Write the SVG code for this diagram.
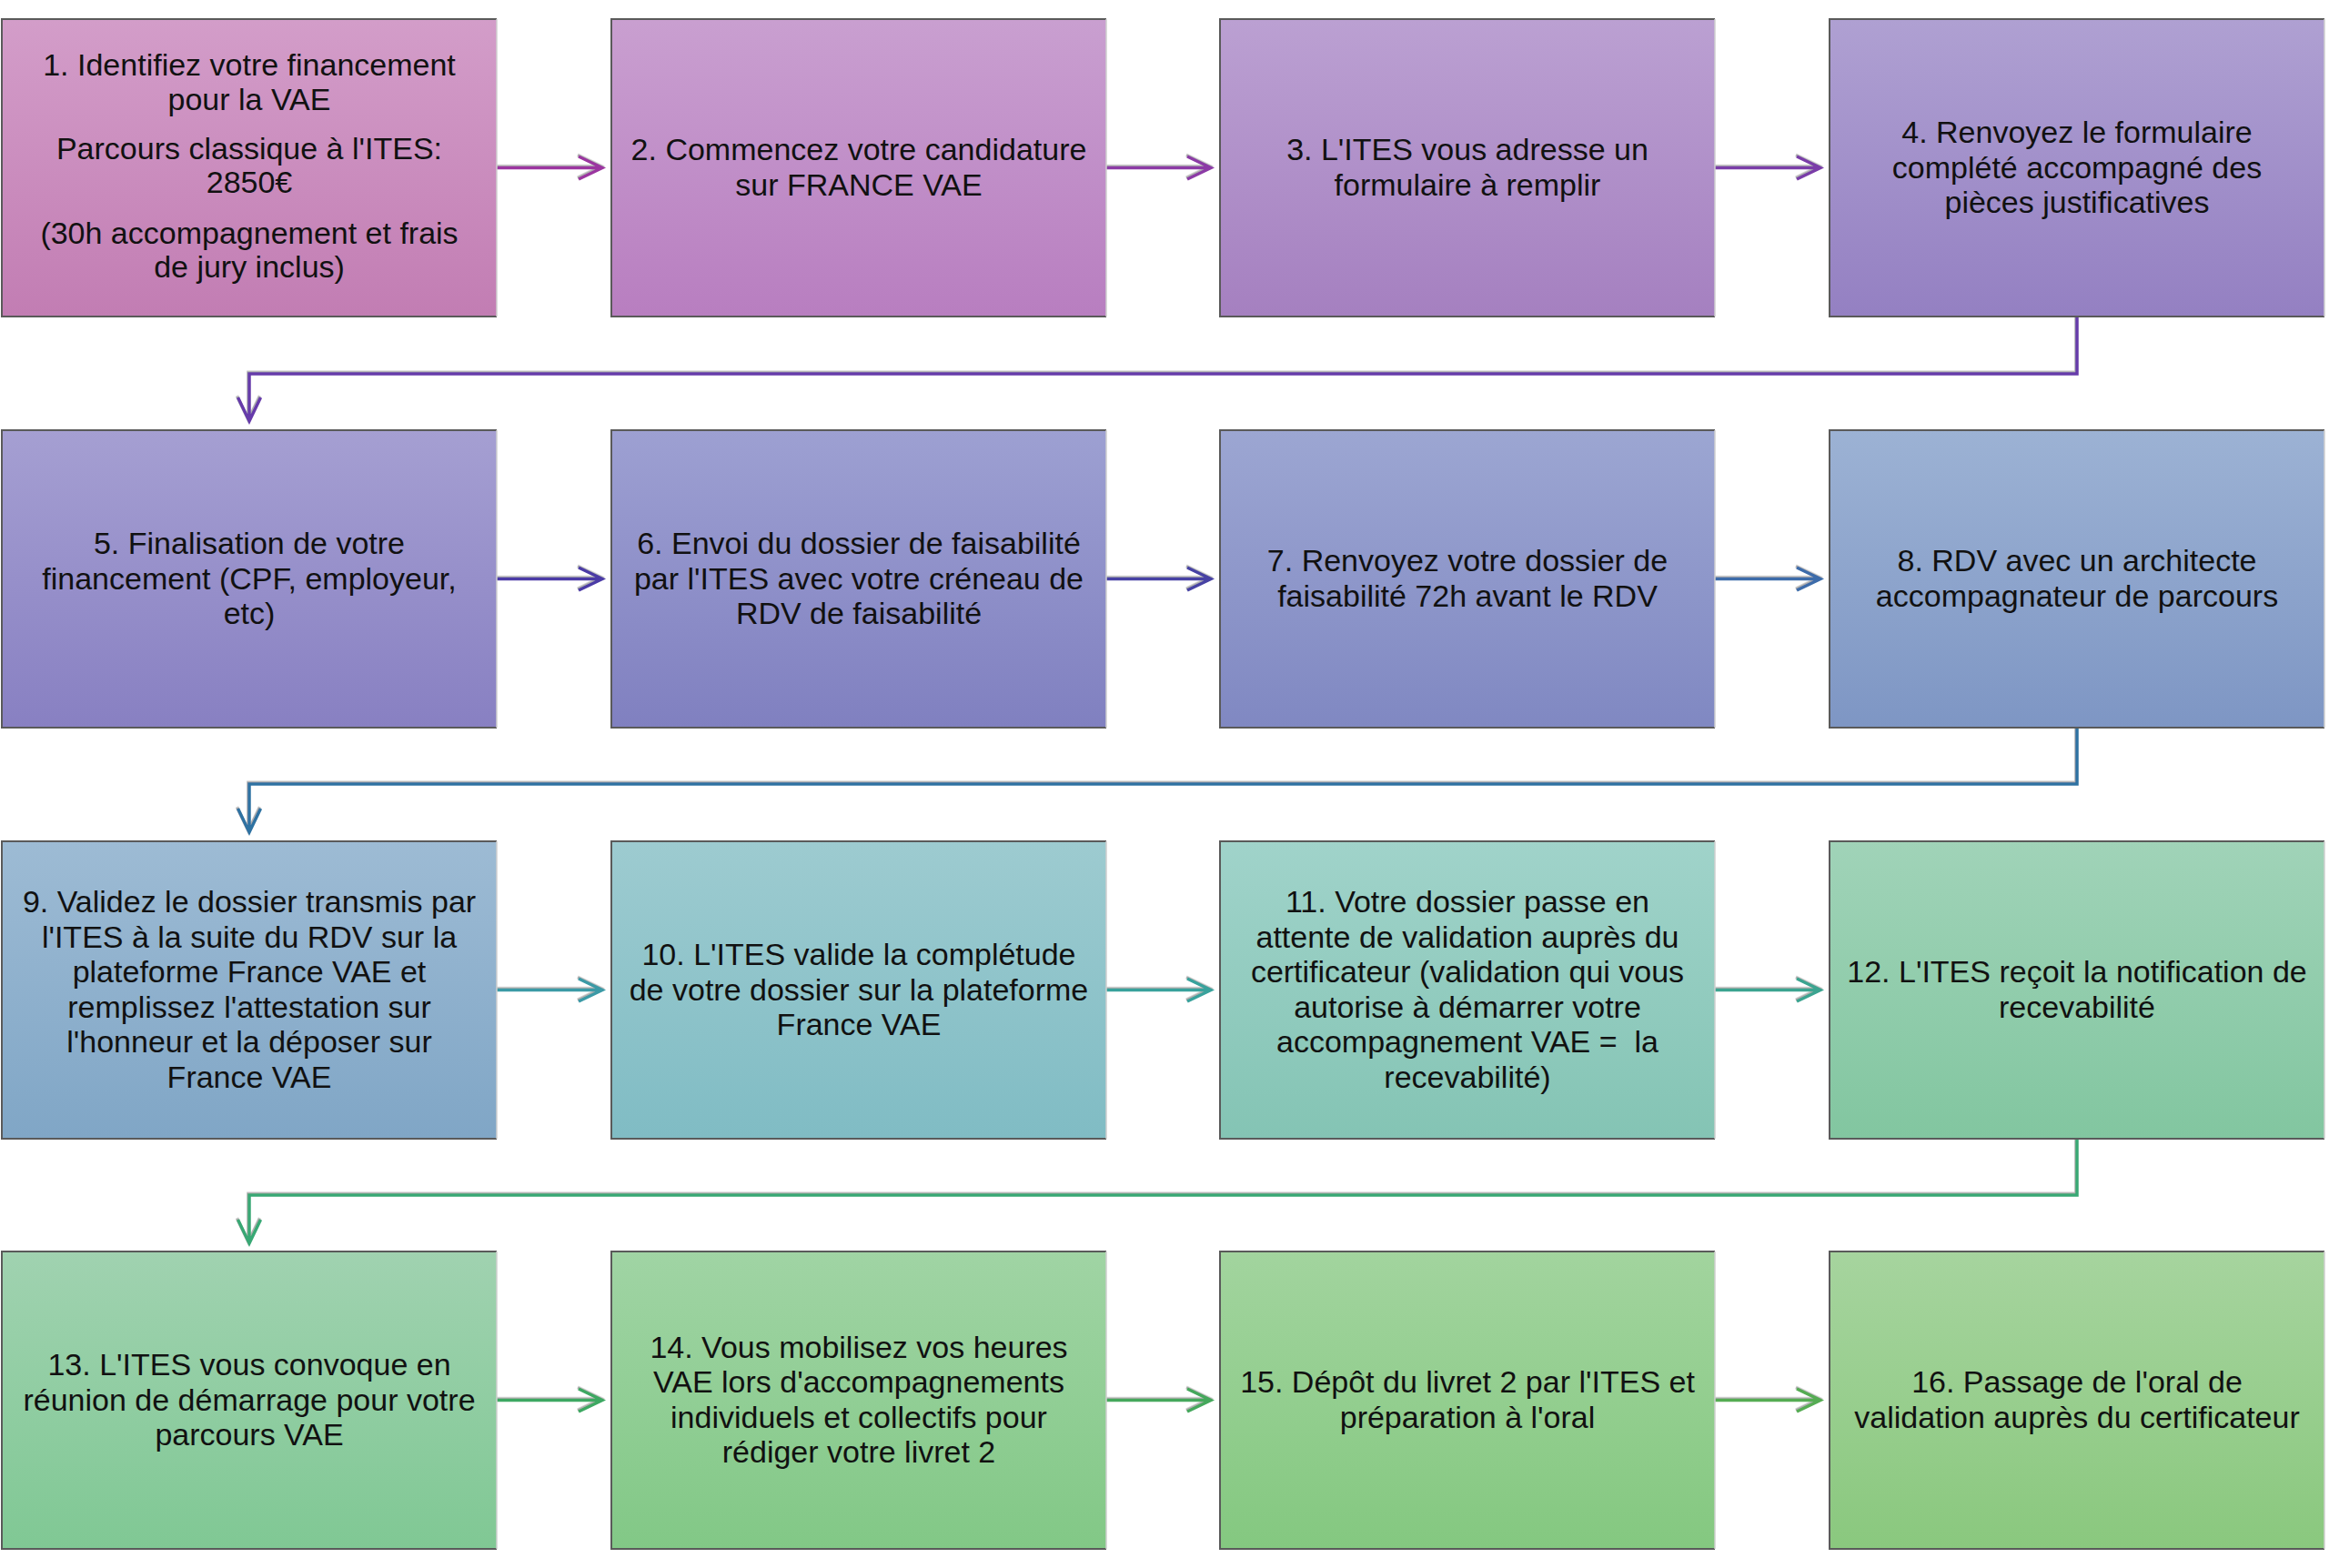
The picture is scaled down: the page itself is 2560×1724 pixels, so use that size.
<svg xmlns="http://www.w3.org/2000/svg" width="2560" height="1724" viewBox="0 0 2560 1724">
<defs>
<style>
.t{font-family:"Liberation Sans",Arial,sans-serif;font-size:34px;fill:#111;text-anchor:middle}
.edge{fill:none;stroke:#5a5a5a;stroke-width:2}
.redge{fill:none;stroke:#cfcfcf;stroke-width:1.5}
.c{fill:none;stroke-width:3.5;stroke-linejoin:miter;stroke-linecap:butt;filter:url(#sh)}
</style>
<filter id="sh" x="-5%" y="-50%" width="110%" height="200%">
<feDropShadow dx="-1" dy="-1.5" stdDeviation="0.4" flood-color="#9a9a9a" flood-opacity="0.8"/>
</filter>
<linearGradient id="g1" x1="0" y1="0" x2="0" y2="1"><stop offset="0" stop-color="#D39DC9"/><stop offset="1" stop-color="#C27DB3"/></linearGradient>
<linearGradient id="g2" x1="0" y1="0" x2="0" y2="1"><stop offset="0" stop-color="#C99FD0"/><stop offset="1" stop-color="#B87EC0"/></linearGradient>
<linearGradient id="g3" x1="0" y1="0" x2="0" y2="1"><stop offset="0" stop-color="#BBA0D2"/><stop offset="1" stop-color="#A580C0"/></linearGradient>
<linearGradient id="g4" x1="0" y1="0" x2="0" y2="1"><stop offset="0" stop-color="#AFA0D2"/><stop offset="1" stop-color="#9480C2"/></linearGradient>
<linearGradient id="g5" x1="0" y1="0" x2="0" y2="1"><stop offset="0" stop-color="#A59FD2"/><stop offset="1" stop-color="#8880C2"/></linearGradient>
<linearGradient id="g6" x1="0" y1="0" x2="0" y2="1"><stop offset="0" stop-color="#9DA0D2"/><stop offset="1" stop-color="#8080C0"/></linearGradient>
<linearGradient id="g7" x1="0" y1="0" x2="0" y2="1"><stop offset="0" stop-color="#9CA6D2"/><stop offset="1" stop-color="#8088C2"/></linearGradient>
<linearGradient id="g8" x1="0" y1="0" x2="0" y2="1"><stop offset="0" stop-color="#9CB2D4"/><stop offset="1" stop-color="#7E96C4"/></linearGradient>
<linearGradient id="g9" x1="0" y1="0" x2="0" y2="1"><stop offset="0" stop-color="#9DBBD4"/><stop offset="1" stop-color="#80A6C6"/></linearGradient>
<linearGradient id="g10" x1="0" y1="0" x2="0" y2="1"><stop offset="0" stop-color="#9DCBD0"/><stop offset="1" stop-color="#80BCC4"/></linearGradient>
<linearGradient id="g11" x1="0" y1="0" x2="0" y2="1"><stop offset="0" stop-color="#A0D3CA"/><stop offset="1" stop-color="#84C4B4"/></linearGradient>
<linearGradient id="g12" x1="0" y1="0" x2="0" y2="1"><stop offset="0" stop-color="#A0D3B8"/><stop offset="1" stop-color="#82C6A0"/></linearGradient>
<linearGradient id="g13" x1="0" y1="0" x2="0" y2="1"><stop offset="0" stop-color="#A0D2B0"/><stop offset="1" stop-color="#80C894"/></linearGradient>
<linearGradient id="g14" x1="0" y1="0" x2="0" y2="1"><stop offset="0" stop-color="#A0D4A4"/><stop offset="1" stop-color="#82C886"/></linearGradient>
<linearGradient id="g15" x1="0" y1="0" x2="0" y2="1"><stop offset="0" stop-color="#A2D49E"/><stop offset="1" stop-color="#84C880"/></linearGradient>
<linearGradient id="g16" x1="0" y1="0" x2="0" y2="1"><stop offset="0" stop-color="#A6D49E"/><stop offset="1" stop-color="#8AC87E"/></linearGradient>
</defs>
<rect width="2560" height="1724" fill="#ffffff"/>

<g id="connectors">
<path class="c" stroke="#9B35A0" d="M546,184.5 H662 M636,172 L662,184.5 L636,197"/>
<path class="c" stroke="#8C3AA6" d="M1216,184.5 H1331 M1305,172 L1331,184.5 L1305,197"/>
<path class="c" stroke="#7A3CA8" d="M1885,184.5 H2001 M1975,172 L2001,184.5 L1975,197"/>
<path class="c" stroke="#663AAA" d="M2283,348 V411 H274 V463 M261.5,437 L274,463 L286.5,437"/>
<path class="c" stroke="#4B3BA6" d="M546,636.5 H662 M636,624 L662,636.5 L636,649"/>
<path class="c" stroke="#4642A4" d="M1216,636.5 H1331 M1305,624 L1331,636.5 L1305,649"/>
<path class="c" stroke="#3C6CAA" d="M1885,636.5 H2001 M1975,624 L2001,636.5 L1975,649"/>
<path class="c" stroke="#2F72A2" d="M2283,800 V862 H274 V915 M261.5,889 L274,915 L286.5,889"/>
<path class="c" stroke="#3A9AA6" d="M546,1088.5 H662 M636,1076 L662,1088.5 L636,1101"/>
<path class="c" stroke="#38A29C" d="M1216,1088.5 H1331 M1305,1076 L1331,1088.5 L1305,1101"/>
<path class="c" stroke="#3AA490" d="M1885,1088.5 H2001 M1975,1076 L2001,1088.5 L1975,1101"/>
<path class="c" stroke="#38A874" d="M2283,1252 V1314 H274 V1367 M261.5,1341 L274,1367 L286.5,1341"/>
<path class="c" stroke="#3DA862" d="M546,1539.5 H662 M636,1527 L662,1539.5 L636,1552"/>
<path class="c" stroke="#44A85C" d="M1216,1539.5 H1331 M1305,1527 L1331,1539.5 L1305,1552"/>
<path class="c" stroke="#54AC52" d="M1885,1539.5 H2001 M1975,1527 L2001,1539.5 L1975,1552"/>
</g>

<g id="n1">
<rect x="2" y="21" width="544" height="327" fill="url(#g1)"/>
<path class="edge" d="M546,21 H2 V348 H546"/><path class="redge" d="M546,21 V348"/>
<text class="t" x="274" y="83">1. Identifiez votre financement</text>
<text class="t" x="274" y="120.5">pour la VAE</text>
<text class="t" x="274" y="174.5">Parcours classique à l'ITES:</text>
<text class="t" x="274" y="212">2850€</text>
<text class="t" x="274" y="267.5">(30h accompagnement et frais</text>
<text class="t" x="274" y="305">de jury inclus)</text>
</g>
<g id="n2">
<rect x="672" y="21" width="544" height="327" fill="url(#g2)"/>
<path class="edge" d="M1216,21 H672 V348 H1216"/><path class="redge" d="M1216,21 V348"/>
<text class="t" x="944" y="176.25">2. Commencez votre candidature</text>
<text class="t" x="944" y="214.75">sur FRANCE VAE</text>
</g>
<g id="n3">
<rect x="1341" y="21" width="544" height="327" fill="url(#g3)"/>
<path class="edge" d="M1885,21 H1341 V348 H1885"/><path class="redge" d="M1885,21 V348"/>
<text class="t" x="1613" y="176.25">3. L'ITES vous adresse un</text>
<text class="t" x="1613" y="214.75">formulaire à remplir</text>
</g>
<g id="n4">
<rect x="2011" y="21" width="544" height="327" fill="url(#g4)"/>
<path class="edge" d="M2555,21 H2011 V348 H2555"/><path class="redge" d="M2555,21 V348"/>
<text class="t" x="2283" y="157">4. Renvoyez le formulaire</text>
<text class="t" x="2283" y="195.5">complété accompagné des</text>
<text class="t" x="2283" y="234">pièces justificatives</text>
</g>

<g id="n5">
<rect x="2" y="473" width="544" height="327" fill="url(#g5)"/>
<path class="edge" d="M546,473 H2 V800 H546"/><path class="redge" d="M546,473 V800"/>
<text class="t" x="274" y="609">5. Finalisation de votre</text>
<text class="t" x="274" y="647.5">financement (CPF, employeur,</text>
<text class="t" x="274" y="686">etc)</text>
</g>
<g id="n6">
<rect x="672" y="473" width="544" height="327" fill="url(#g6)"/>
<path class="edge" d="M1216,473 H672 V800 H1216"/><path class="redge" d="M1216,473 V800"/>
<text class="t" x="944" y="609">6. Envoi du dossier de faisabilité</text>
<text class="t" x="944" y="647.5">par l'ITES avec votre créneau de</text>
<text class="t" x="944" y="686">RDV de faisabilité</text>
</g>
<g id="n7">
<rect x="1341" y="473" width="544" height="327" fill="url(#g7)"/>
<path class="edge" d="M1885,473 H1341 V800 H1885"/><path class="redge" d="M1885,473 V800"/>
<text class="t" x="1613" y="628.25">7. Renvoyez votre dossier de</text>
<text class="t" x="1613" y="666.75">faisabilité 72h avant le RDV</text>
</g>
<g id="n8">
<rect x="2011" y="473" width="544" height="327" fill="url(#g8)"/>
<path class="edge" d="M2555,473 H2011 V800 H2555"/><path class="redge" d="M2555,473 V800"/>
<text class="t" x="2283" y="628.25">8. RDV avec un architecte</text>
<text class="t" x="2283" y="666.75">accompagnateur de parcours</text>
</g>

<g id="n9">
<rect x="2" y="925" width="544" height="327" fill="url(#g9)"/>
<path class="edge" d="M546,925 H2 V1252 H546"/><path class="redge" d="M546,925 V1252"/>
<text class="t" x="274" y="1003.25">9. Validez le dossier transmis par</text>
<text class="t" x="274" y="1041.75">l'ITES à la suite du RDV sur la</text>
<text class="t" x="274" y="1080.25">plateforme France VAE et</text>
<text class="t" x="274" y="1118.75">remplissez l'attestation sur</text>
<text class="t" x="274" y="1157.25">l'honneur et la déposer sur</text>
<text class="t" x="274" y="1195.75">France VAE</text>
</g>
<g id="n10">
<rect x="672" y="925" width="544" height="327" fill="url(#g10)"/>
<path class="edge" d="M1216,925 H672 V1252 H1216"/><path class="redge" d="M1216,925 V1252"/>
<text class="t" x="944" y="1061">10. L'ITES valide la complétude</text>
<text class="t" x="944" y="1099.5">de votre dossier sur la plateforme</text>
<text class="t" x="944" y="1138">France VAE</text>
</g>
<g id="n11">
<rect x="1341" y="925" width="544" height="327" fill="url(#g11)"/>
<path class="edge" d="M1885,925 H1341 V1252 H1885"/><path class="redge" d="M1885,925 V1252"/>
<text class="t" x="1613" y="1003.25">11. Votre dossier passe en</text>
<text class="t" x="1613" y="1041.75">attente de validation auprès du</text>
<text class="t" x="1613" y="1080.25">certificateur (validation qui vous</text>
<text class="t" x="1613" y="1118.75">autorise à démarrer votre</text>
<text class="t" x="1613" y="1157.25" xml:space="preserve">accompagnement VAE =  la</text>
<text class="t" x="1613" y="1195.75">recevabilité)</text>
</g>
<g id="n12">
<rect x="2011" y="925" width="544" height="327" fill="url(#g12)"/>
<path class="edge" d="M2555,925 H2011 V1252 H2555"/><path class="redge" d="M2555,925 V1252"/>
<text class="t" x="2283" y="1080.25">12. L'ITES reçoit la notification de</text>
<text class="t" x="2283" y="1118.75">recevabilité</text>
</g>

<g id="n13">
<rect x="2" y="1376" width="544" height="327" fill="url(#g13)"/>
<path class="edge" d="M546,1376 H2 V1703 H546"/><path class="redge" d="M546,1376 V1703"/>
<text class="t" x="274" y="1512">13. L'ITES vous convoque en</text>
<text class="t" x="274" y="1550.5">réunion de démarrage pour votre</text>
<text class="t" x="274" y="1589">parcours VAE</text>
</g>
<g id="n14">
<rect x="672" y="1376" width="544" height="327" fill="url(#g14)"/>
<path class="edge" d="M1216,1376 H672 V1703 H1216"/><path class="redge" d="M1216,1376 V1703"/>
<text class="t" x="944" y="1492.75">14. Vous mobilisez vos heures</text>
<text class="t" x="944" y="1531.25">VAE lors d'accompagnements</text>
<text class="t" x="944" y="1569.75">individuels et collectifs pour</text>
<text class="t" x="944" y="1608.25">rédiger votre livret 2</text>
</g>
<g id="n15">
<rect x="1341" y="1376" width="544" height="327" fill="url(#g15)"/>
<path class="edge" d="M1885,1376 H1341 V1703 H1885"/><path class="redge" d="M1885,1376 V1703"/>
<text class="t" x="1613" y="1531.25">15. Dépôt du livret 2 par l'ITES et</text>
<text class="t" x="1613" y="1569.75">préparation à l'oral</text>
</g>
<g id="n16">
<rect x="2011" y="1376" width="544" height="327" fill="url(#g16)"/>
<path class="edge" d="M2555,1376 H2011 V1703 H2555"/><path class="redge" d="M2555,1376 V1703"/>
<text class="t" x="2283" y="1531.25">16. Passage de l'oral de</text>
<text class="t" x="2283" y="1569.75">validation auprès du certificateur</text>
</g>
</svg>
